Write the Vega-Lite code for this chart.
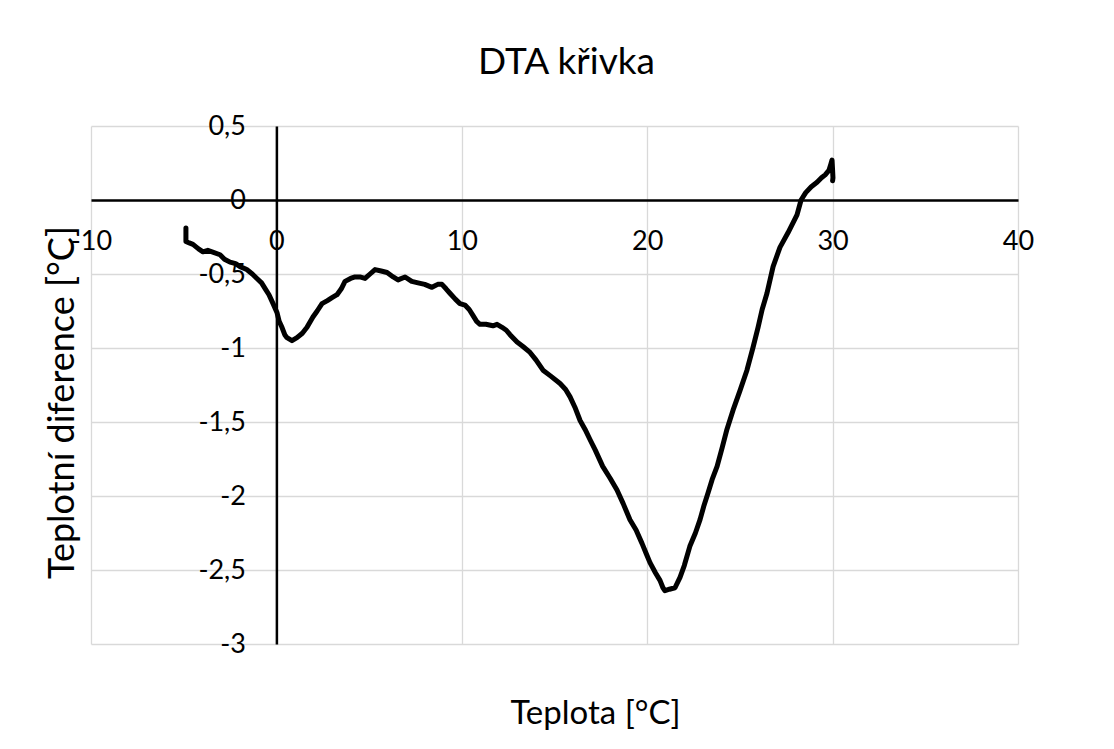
{
  "$schema": "https://vega.github.io/schema/vega-lite/v6.json",
  "width": 927,
  "height": 518,
  "autosize": {"type": "none"},
  "padding": {"left": 91, "top": 126, "right": 96, "bottom": 105},
  "background": "white",
  "title": {"text": "DTA křivka", "font": "Lato", "fontSize": 37, "fontWeight": "normal", "color": "#000", "anchor": "middle", "frame": "group", "dx": 12, "offset": 39, "dy": 38, "baseline": "alphabetic"},
  "config": {"view": {"stroke": null}, "font": "Lato"},
  "data": {"values": [
    {"n": 0, "t": -4.88, "d": -0.19},
    {"n": 1, "t": -4.88, "d": -0.28},
    {"n": 2, "t": -4.7, "d": -0.29},
    {"n": 3, "t": -4.5, "d": -0.30},
    {"n": 4, "t": -4.2, "d": -0.33},
    {"n": 5, "t": -3.96, "d": -0.35},
    {"n": 6, "t": -3.7, "d": -0.34},
    {"n": 7, "t": -3.47, "d": -0.35},
    {"n": 8, "t": -3.04, "d": -0.37},
    {"n": 9, "t": -2.8, "d": -0.40},
    {"n": 10, "t": -2.5, "d": -0.42},
    {"n": 11, "t": -2.2, "d": -0.43},
    {"n": 12, "t": -1.96, "d": -0.45},
    {"n": 13, "t": -1.6, "d": -0.47},
    {"n": 14, "t": -1.3, "d": -0.50},
    {"n": 15, "t": -1.05, "d": -0.53},
    {"n": 16, "t": -0.8, "d": -0.56},
    {"n": 17, "t": -0.6, "d": -0.60},
    {"n": 18, "t": -0.4, "d": -0.64},
    {"n": 19, "t": -0.18, "d": -0.70},
    {"n": 20, "t": 0.03, "d": -0.76},
    {"n": 21, "t": 0.15, "d": -0.82},
    {"n": 22, "t": 0.3, "d": -0.86},
    {"n": 23, "t": 0.45, "d": -0.91},
    {"n": 24, "t": 0.57, "d": -0.93},
    {"n": 25, "t": 0.84, "d": -0.95},
    {"n": 26, "t": 1.11, "d": -0.93},
    {"n": 27, "t": 1.4, "d": -0.90},
    {"n": 28, "t": 1.65, "d": -0.86},
    {"n": 29, "t": 1.97, "d": -0.79},
    {"n": 30, "t": 2.2, "d": -0.75},
    {"n": 31, "t": 2.46, "d": -0.70},
    {"n": 32, "t": 2.75, "d": -0.68},
    {"n": 33, "t": 3.0, "d": -0.66},
    {"n": 34, "t": 3.27, "d": -0.64},
    {"n": 35, "t": 3.5, "d": -0.60},
    {"n": 36, "t": 3.7, "d": -0.55},
    {"n": 37, "t": 4.0, "d": -0.53},
    {"n": 38, "t": 4.24, "d": -0.52},
    {"n": 39, "t": 4.5, "d": -0.52},
    {"n": 40, "t": 4.78, "d": -0.53},
    {"n": 41, "t": 5.05, "d": -0.50},
    {"n": 42, "t": 5.32, "d": -0.47},
    {"n": 43, "t": 5.65, "d": -0.48},
    {"n": 44, "t": 5.97, "d": -0.49},
    {"n": 45, "t": 6.3, "d": -0.52},
    {"n": 46, "t": 6.56, "d": -0.54},
    {"n": 47, "t": 6.94, "d": -0.52},
    {"n": 48, "t": 7.3, "d": -0.55},
    {"n": 49, "t": 7.64, "d": -0.56},
    {"n": 50, "t": 8.0, "d": -0.57},
    {"n": 51, "t": 8.39, "d": -0.59},
    {"n": 52, "t": 8.7, "d": -0.57},
    {"n": 53, "t": 8.93, "d": -0.57},
    {"n": 54, "t": 9.15, "d": -0.60},
    {"n": 55, "t": 9.36, "d": -0.63},
    {"n": 56, "t": 9.65, "d": -0.67},
    {"n": 57, "t": 9.9, "d": -0.70},
    {"n": 58, "t": 10.17, "d": -0.71},
    {"n": 59, "t": 10.4, "d": -0.74},
    {"n": 60, "t": 10.6, "d": -0.78},
    {"n": 61, "t": 10.8, "d": -0.82},
    {"n": 62, "t": 10.98, "d": -0.84},
    {"n": 63, "t": 11.3, "d": -0.84},
    {"n": 64, "t": 11.68, "d": -0.85},
    {"n": 65, "t": 11.9, "d": -0.84},
    {"n": 66, "t": 12.17, "d": -0.86},
    {"n": 67, "t": 12.4, "d": -0.88},
    {"n": 68, "t": 12.6, "d": -0.91},
    {"n": 69, "t": 12.98, "d": -0.96},
    {"n": 70, "t": 13.3, "d": -0.99},
    {"n": 71, "t": 13.68, "d": -1.03},
    {"n": 72, "t": 14.0, "d": -1.08},
    {"n": 73, "t": 14.38, "d": -1.15},
    {"n": 74, "t": 14.8, "d": -1.19},
    {"n": 75, "t": 15.3, "d": -1.24},
    {"n": 76, "t": 15.6, "d": -1.28},
    {"n": 77, "t": 15.84, "d": -1.33},
    {"n": 78, "t": 16.1, "d": -1.40},
    {"n": 79, "t": 16.38, "d": -1.49},
    {"n": 80, "t": 16.65, "d": -1.55},
    {"n": 81, "t": 16.92, "d": -1.62},
    {"n": 82, "t": 17.2, "d": -1.69},
    {"n": 83, "t": 17.6, "d": -1.80},
    {"n": 84, "t": 18.0, "d": -1.88},
    {"n": 85, "t": 18.37, "d": -1.96},
    {"n": 86, "t": 18.7, "d": -2.05},
    {"n": 87, "t": 19.07, "d": -2.16},
    {"n": 88, "t": 19.4, "d": -2.23},
    {"n": 89, "t": 19.72, "d": -2.32},
    {"n": 90, "t": 19.95, "d": -2.39},
    {"n": 91, "t": 20.15, "d": -2.45},
    {"n": 92, "t": 20.45, "d": -2.52},
    {"n": 93, "t": 20.69, "d": -2.57},
    {"n": 94, "t": 20.85, "d": -2.62},
    {"n": 95, "t": 20.96, "d": -2.64},
    {"n": 96, "t": 21.2, "d": -2.63},
    {"n": 97, "t": 21.5, "d": -2.62},
    {"n": 98, "t": 21.77, "d": -2.55},
    {"n": 99, "t": 22.0, "d": -2.47},
    {"n": 100, "t": 22.3, "d": -2.34},
    {"n": 101, "t": 22.6, "d": -2.25},
    {"n": 102, "t": 22.85, "d": -2.16},
    {"n": 103, "t": 23.05, "d": -2.07},
    {"n": 104, "t": 23.28, "d": -1.98},
    {"n": 105, "t": 23.5, "d": -1.89},
    {"n": 106, "t": 23.77, "d": -1.80},
    {"n": 107, "t": 24.03, "d": -1.68},
    {"n": 108, "t": 24.3, "d": -1.55},
    {"n": 109, "t": 24.63, "d": -1.42},
    {"n": 110, "t": 25.0, "d": -1.29},
    {"n": 111, "t": 25.38, "d": -1.15},
    {"n": 112, "t": 25.7, "d": -1.00},
    {"n": 113, "t": 25.98, "d": -0.86},
    {"n": 114, "t": 26.2, "d": -0.74},
    {"n": 115, "t": 26.46, "d": -0.63},
    {"n": 116, "t": 26.79, "d": -0.45},
    {"n": 117, "t": 27.16, "d": -0.32},
    {"n": 118, "t": 27.6, "d": -0.22},
    {"n": 119, "t": 28.08, "d": -0.10},
    {"n": 120, "t": 28.3, "d": 0.0},
    {"n": 121, "t": 28.55, "d": 0.05},
    {"n": 122, "t": 28.85, "d": 0.09},
    {"n": 123, "t": 29.16, "d": 0.12},
    {"n": 124, "t": 29.4, "d": 0.15},
    {"n": 125, "t": 29.6, "d": 0.17},
    {"n": 126, "t": 29.8, "d": 0.20},
    {"n": 127, "t": 29.9, "d": 0.24},
    {"n": 128, "t": 29.97, "d": 0.27},
    {"n": 129, "t": 30.0, "d": 0.20},
    {"n": 130, "t": 30.02, "d": 0.15},
    {"n": 131, "t": 30.0, "d": 0.13}
  ]},
  "mark": {"type": "line", "color": "#000", "strokeWidth": 5, "strokeJoin": "round", "strokeCap": "round"},
  "encoding": {
    "x": {
      "field": "t", "type": "quantitative",
      "scale": {"domain": [-10, 40], "nice": false, "zero": false},
      "axis": {
        "orient": "bottom", "offset": -444,
        "values": [-10, 0, 10, 20, 30, 40],
        "labelExpr": "replace(datum.value + '', '.', ',')",
        "ticks": false,
        "domainColor": "#000", "domainWidth": 2.5,
        "grid": true, "gridColor": "#d9d9d9", "gridWidth": 1.3,
        "labelFont": "Lato", "labelFontSize": 27, "labelColor": "#000",
        "labelPadding": 41, "labelBaseline": "middle", "labelFlush": false, "labelOverlap": false, "labelBound": false,
        "title": "Teplota [°C]", "titleFont": "Lato", "titleFontSize": 33, "titleFontWeight": "normal", "titleColor": "#000",
        "titleX": 504, "titleY": 523, "titleAlign": "center", "titleBaseline": "alphabetic", "titleAngle": 0
      }
    },
    "y": {
      "field": "d", "type": "quantitative",
      "scale": {"domain": [-3, 0.5], "nice": false, "zero": false},
      "axis": {
        "orient": "left", "offset": -185.4,
        "values": [-3, -2.5, -2, -1.5, -1, -0.5, 0, 0.5],
        "labelExpr": "replace(datum.value + '', '.', ',')",
        "ticks": false,
        "domainColor": "#000", "domainWidth": 2.5,
        "grid": true, "gridColor": "#d9d9d9", "gridWidth": 1.3,
        "labelFont": "Lato", "labelFontSize": 27, "labelColor": "#000",
        "labelPadding": 31, "labelAlign": "right", "labelBaseline": "middle", "labelFlush": false, "labelOverlap": false, "labelBound": false,
        "title": "Teplotní diference [°C]", "titleFont": "Lato", "titleFontSize": 36, "titleFontWeight": "normal", "titleColor": "#000",
        "titleX": -203, "titleY": 276, "titleAlign": "center", "titleBaseline": "alphabetic", "titleAngle": 270
      }
    },
    "order": {"field": "n", "type": "quantitative"}
  }
}
